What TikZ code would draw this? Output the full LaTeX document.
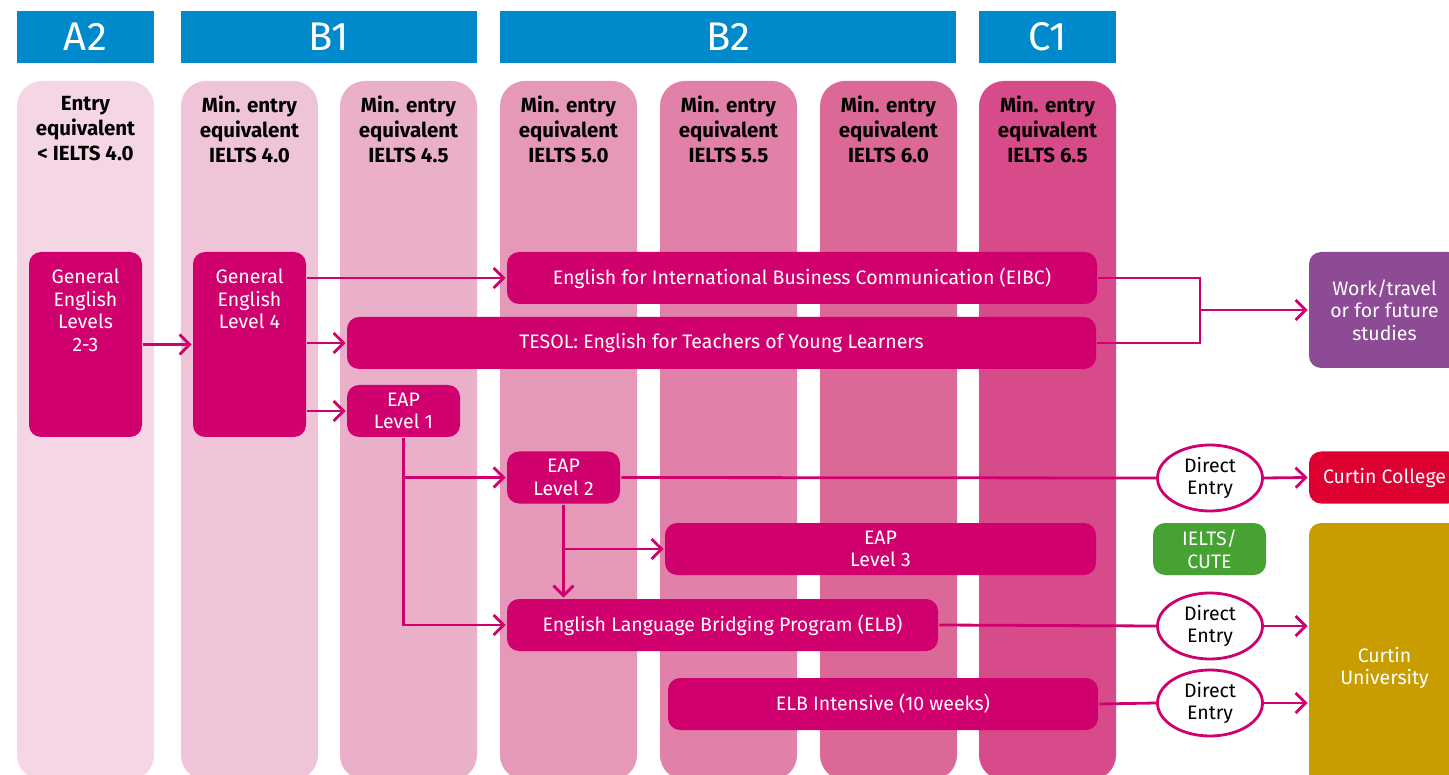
\documentclass[tikz,border=0pt]{standalone}
\usepackage{fontspec}
\setmainfont{Fira Sans}
\usetikzlibrary{arrows.meta,shapes.geometric}
\definecolor{curtinblue}{RGB}{0,137,203}
\definecolor{progpink}{RGB}{208,0,111}
\definecolor{shadeA}{RGB}{245,214,228}
\definecolor{shadeB}{RGB}{240,196,216}
\definecolor{shadeC}{RGB}{234,176,201}
\definecolor{shadeD}{RGB}{229,152,184}
\definecolor{shadeE}{RGB}{225,128,168}
\definecolor{shadeF}{RGB}{220,104,151}
\definecolor{shadeG}{RGB}{216,75,138}
\definecolor{workpurple}{RGB}{141,74,149}
\definecolor{collegered}{RGB}{221,0,49}
\definecolor{cutegreen}{RGB}{69,162,51}
\definecolor{unigold}{RGB}{201,157,0}
\begin{document}
\begin{tikzpicture}
      [x = 1pt, y = -1pt, line width = 2.8pt,
       lvl/.style = {fill = curtinblue, text = white, minimum height = 52pt, inner sep = 0pt,
                     font = \fontsize{40}{40}\selectfont},
       hdr/.style = {align = center, font = \fontsize{20.5}{25}\selectfont\bfseries},
       prog/.style = {fill = progpink, text = white, rounded corners = 12pt, inner sep = 0pt,
                      minimum height = 52pt, align = center, font = \fontsize{19.5}{22.5}\selectfont},
       prgtxt/.style = {text = white, align = center, inner sep = 0pt, anchor = north,
                        yshift = -17pt, font = \fontsize{19.5}{22.5}\selectfont},
       entry/.style = {ellipse, draw = progpink, fill = white, minimum width = 105pt,
                       minimum height = 66pt, inner sep = 0pt, align = center,
                       font = \fontsize{19.5}{22.5}\selectfont},
       arr/.style = {draw = progpink, -{Straight Barb[length = 10pt, width = 20pt]}},
       link/.style = {draw = progpink}]
      \useasboundingbox (0,0) rectangle (1449,775);
      \clip (0,0) rectangle (1449,775);
      \node[lvl, minimum width = 137pt] (a2) at (85.5,37) {A2};
      \node[lvl, minimum width = 296pt] (b1) at (329,37) {B1};
      \node[lvl, minimum width = 456pt] (b2) at (728,37) {B2};
      \node[lvl, minimum width = 137pt] (c1) at (1047.5,37) {C1};
      \foreach \x/\shade/\txt [count = \i] in
        {17/shadeA/{Entry\\equivalent\\< IELTS 4.0},
         181/shadeB/{Min. entry\\equivalent\\IELTS 4.0},
         340/shadeC/{Min. entry\\equivalent\\IELTS 4.5},
         500/shadeD/{Min. entry\\equivalent\\IELTS 5.0},
         660/shadeE/{Min. entry\\equivalent\\IELTS 5.5},
         820/shadeF/{Min. entry\\equivalent\\IELTS 6.0},
         979/shadeG/{Min. entry\\equivalent\\IELTS 6.5}}
        {
        \fill[\shade, rounded corners = 25pt] (\x,81) rectangle ++(137,699);
        \node[hdr] (col\i) at (\x + 68.5,129) {\txt};
        }
      \node[prog, minimum width = 113pt, minimum height = 185pt,
            label = {[prgtxt]north:General\\English\\Levels\\2-3}] (ge23) at (85.5,344.5) {};
      \node[prog, minimum width = 113pt, minimum height = 185pt,
            label = {[prgtxt]north:General\\English\\Level 4}] (ge4) at (249.5,344.5) {};
      \node[prog, minimum width = 590pt] (eibc) at (802,278)
        {English for International Business Communication (EIBC)};
      \node[prog, minimum width = 749pt] (tesol) at (721.5,343)
        {TESOL: English for Teachers of Young Learners};
      \node[prog, minimum width = 113pt] (eap1) at (403.5,411) {EAP\\Level 1};
      \node[prog, minimum width = 113pt] (eap2) at (563.5,477.5) {EAP\\Level 2};
      \node[prog, minimum width = 431pt] (eap3) at (880.5,549) {EAP\\Level 3};
      \node[prog, minimum width = 431pt] (elb) at (722.5,625)
        {English Language Bridging Program (ELB)};
      \node[prog, minimum width = 430pt] (elbi) at (883,704) {ELB Intensive (10 weeks)};
      \node[prog, fill = workpurple, minimum width = 151pt, minimum height = 116pt] (work)
        at (1384.5,310) {Work/travel\\or for future\\studies};
      \node[prog, fill = collegered, minimum width = 151pt] (college) at (1384.5,477.5)
        {Curtin College};
      \node[prog, fill = cutegreen, minimum width = 113pt] (cute) at (1209.5,549) {IELTS/\\CUTE};
      \node[prog, fill = unigold, minimum width = 151pt, minimum height = 290pt] (uni)
        at (1384.5,668) {Curtin\\University};
      \node[entry] (de1) at (1210,478) {Direct\\Entry};
      \node[entry] (de2) at (1210,626) {Direct\\Entry};
      \node[entry] (de3) at (1210,703) {Direct\\Entry};
      \coordinate (jn) at (1200,310);
      \draw[arr] (ge23.east) -- (ge4.west);
      \draw[arr] (ge4.east |- eibc.west) -- (eibc.west);
      \draw[arr] (ge4.east |- tesol.west) -- (tesol.west);
      \draw[arr] (ge4.east |- eap1.west) -- (eap1.west);
      \draw[arr] (eap1.south) |- (eap2.west);
      \draw[arr] (eap1.south) |- (elb.west);
      \draw[arr] (eap2.south) |- (eap3.west);
      \draw[arr] (eap2.south) -- (eap2.south |- elb.north);
      \draw[link] (eap2.east) -- (de1.west);
      \draw[arr] (de1.east) -- (college.west);
      \draw[link] (eibc.east) -| (jn) |- (tesol.east);
      \draw[arr] (jn) -- (work.west);
      \draw[link] (elb.east) -- (de2.west);
      \draw[arr] (de2.east) -- (uni.west |- de2.east);
      \draw[link] (elbi.east) -- (de3.west);
      \draw[arr] (de3.east) -- (uni.west |- de3.east);
      \end{tikzpicture}
\end{document}
